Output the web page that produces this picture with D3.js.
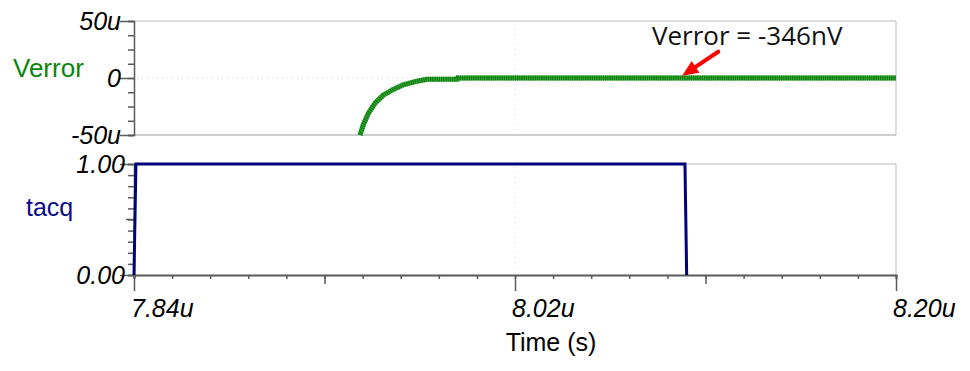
<!DOCTYPE html>
<html>
<head>
<meta charset="utf-8">
<script src="https://d3js.org/d3.v7.min.js"></script>
<style>
body { margin: 0; background: #ffffff; }
svg { display: block; }
.tick-label { font-family: 'Liberation Sans', Arial, sans-serif; font-style: italic; font-size: 25px; fill: #000; }
.axis path, .axis line { stroke: #5a5a5a; }
</style>
</head>
<body>
<svg id="chart" width="970" height="371"></svg>
<script>
// ---- data ----
var timeDomain = [7.84, 8.20];          // us
var xMajorTicks = [7.84, 8.02, 8.20];
var xMajorLabels = ["7.84u", "8.02u", "8.20u"];
var xMidTicks = [7.93, 8.11];

// Verror (uV) vs time (us)
var verrTime  = [7.9468, 7.9483, 7.9507, 7.9539, 7.9578, 7.9625, 7.9672, 7.9728, 7.9760, 7.9783, 7.9930, 7.9931, 8.05, 8.10, 8.15, 8.20];
var verrValue = [-50, -41.2, -31, -22, -15, -10, -6, -3.2, -2, -1.2, -1, 0, 0, 0, 0, 0];
var verrTicks = [50, 0, -50];
var verrLabels = ["50u", "0", "-50u"];

// tacq pulse
var tacqTime  = [7.84, 7.8409, 8.1003, 8.1011];
var tacqValue = [0, 1, 1, 0];
var tacqTicks = [1, 0];
var tacqLabels = ["1.00", "0.00"];

var noteText = "Verror = -346nV";
var notePoint = [8.099, 2];

// ---- layout ----
var svg = d3.select("#chart");
var left = 134, right = 896;
var topPanel = [21, 135], botPanel = [164, 275];

var x = d3.scaleLinear().domain(timeDomain).range([left, right]);
var yTop = d3.scaleLinear().domain([-50, 50]).range([topPanel[1], topPanel[0]]);
var yBot = d3.scaleLinear().domain([0, 1]).range([botPanel[1], botPanel[0]]);

var minorX = d3.range(0, 21).map(function (i) { return 7.84 + i * 0.018; });
var minorTop = d3.range(0, 9).map(function (i) { return -50 + i * 12.5; });
var minorBot = d3.range(0, 11).map(function (i) { return i / 10; });

// ---- frames and grid ----
function frame(y0, y1) {
    svg.append("line").attr("x1", left).attr("x2", right).attr("y1", y0).attr("y2", y0)
        .attr("stroke", "#d2d2d2").attr("stroke-width", 1.5);
    svg.append("line").attr("x1", right).attr("x2", right).attr("y1", y0).attr("y2", y1)
        .attr("stroke", "#d2d2d2").attr("stroke-width", 1.5);
    // vertical dotted grid at 8.02u
    svg.append("line").attr("x1", x(8.02)).attr("x2", x(8.02)).attr("y1", y0 + 3).attr("y2", y1 - 3)
        .attr("stroke", "#d0d0d0").attr("stroke-dasharray", "1,4");
}
frame(topPanel[0], topPanel[1]);
frame(botPanel[0], botPanel[1]);

// top panel: bottom border + dotted zero line
svg.append("line").attr("x1", left).attr("x2", right).attr("y1", topPanel[1]).attr("y2", topPanel[1])
    .attr("stroke", "#bdbdbd").attr("stroke-width", 1.5);
svg.append("line").attr("x1", left + 3).attr("x2", right - 3).attr("y1", yTop(0)).attr("y2", yTop(0))
    .attr("stroke", "#d0d0d0").attr("stroke-dasharray", "1,4");

// ---- y axes ----
function yAxis(scale, minor, major, labels, labelX) {
    var g = svg.append("g").attr("class", "axis").attr("transform", "translate(" + left + ",0)");
    g.call(d3.axisLeft(scale).tickValues(minor).tickSize(6).tickFormat(""));
    g.append("g").call(d3.axisLeft(scale).tickValues(major).tickSize(14).tickFormat(""))
        .select(".domain").remove();
    g.selectAll("line").attr("stroke", "#5a5a5a").attr("stroke-width", 1.5);
    g.select(".domain").attr("stroke", "#5a5a5a").attr("stroke-width", 1.5);
    svg.selectAll(null).data(major).enter().append("text")
        .attr("class", "tick-label")
        .attr("text-anchor", "end")
        .attr("x", labelX)
        .attr("y", function (d) { return scale(d); })
        .attr("dy", "0.36em")
        .text(function (d, i) { return labels[i]; });
}
yAxis(yTop, minorTop, verrTicks, verrLabels, 121);
yAxis(yBot, minorBot, tacqTicks, tacqLabels, 125);
// half-way tick on tacq is a bit longer
svg.append("line").attr("x1", left - 8).attr("x2", left).attr("y1", yBot(0.5)).attr("y2", yBot(0.5))
    .attr("stroke", "#5a5a5a").attr("stroke-width", 1.5);

// ---- x axis ----
var gx = svg.append("g").attr("class", "axis").attr("transform", "translate(0," + botPanel[1] + ")");
gx.call(d3.axisBottom(x).tickValues(minorX).tickSize(4).tickFormat(""));
gx.append("g").call(d3.axisBottom(x).tickValues(xMidTicks).tickSize(9).tickFormat("")).select(".domain").remove();
gx.append("g").call(d3.axisBottom(x).tickValues(xMajorTicks).tickSize(16).tickFormat("")).select(".domain").remove();
gx.selectAll("line").attr("stroke", "#5a5a5a").attr("stroke-width", 1.5);
gx.select(".domain").attr("stroke", "#5a5a5a").attr("stroke-width", 2);

svg.selectAll(null).data(xMajorTicks).enter().append("text")
    .attr("class", "tick-label")
    .attr("x", function (d) { return x(d) - 3; })
    .attr("y", 317)
    .text(function (d, i) { return xMajorLabels[i]; });

svg.append("text")
    .attr("x", 551).attr("y", 351)
    .attr("text-anchor", "middle")
    .style("font-family", "'Liberation Sans', Arial, sans-serif")
    .style("font-size", "25px")
    .text("Time (s)");

// ---- series labels ----
svg.append("text").attr("x", 13).attr("y", 77)
    .style("font-family", "'Liberation Sans', Arial, sans-serif").style("font-size", "26px")
    .attr("fill", "#0a860a").text("Verror");
svg.append("text").attr("x", 26).attr("y", 216)
    .style("font-family", "'Liberation Sans', Arial, sans-serif").style("font-size", "25px")
    .attr("fill", "#0a0a8c").text("tacq");

// ---- traces ----
var verrLine = d3.line().x(function (d, i) { return x(verrTime[i]); })
    .y(function (d) { return yTop(d); });
svg.append("path").datum(verrValue).attr("d", verrLine)
    .attr("fill", "none").attr("stroke", "#3fa53f").attr("stroke-width", 5);
svg.append("path").datum(verrValue).attr("d", verrLine)
    .attr("fill", "none").attr("stroke", "#0a820a").attr("stroke-width", 5)
    .attr("stroke-dasharray", "1.3,0.9");

var tacqLine = d3.line().x(function (d, i) { return x(tacqTime[i]); })
    .y(function (d) { return yBot(d); });
svg.append("path").datum(tacqValue).attr("d", tacqLine)
    .attr("fill", "none").attr("stroke", "#00007f").attr("stroke-width", 3)
    .attr("stroke-linejoin", "miter");

// ---- annotation ----
svg.append("text").attr("x", 652).attr("y", 45)
    .style("font-family", "'Open Sans', sans-serif").style("font-size", "26px")
    .attr("fill", "#111").text(noteText);

var tipX = x(notePoint[0]), tipY = yTop(notePoint[1]);
var tailX = tipX + 36, tailY = tipY - 24;
var ang = Math.atan2(tipY - tailY, tipX - tailX);
var headLen = 16, headW = 7;
var baseX = tipX - headLen * Math.cos(ang), baseY = tipY - headLen * Math.sin(ang);
svg.append("line").attr("x1", tailX).attr("y1", tailY).attr("x2", baseX).attr("y2", baseY)
    .attr("stroke", "#ff0000").attr("stroke-width", 4).attr("stroke-linecap", "round");
svg.append("path")
    .attr("d", "M" + tipX + "," + tipY +
        "L" + (baseX + headW * Math.sin(ang)) + "," + (baseY - headW * Math.cos(ang)) +
        "L" + (baseX - headW * Math.sin(ang)) + "," + (baseY + headW * Math.cos(ang)) + "Z")
    .attr("fill", "#ff0000");
</script>
</body>
</html>
